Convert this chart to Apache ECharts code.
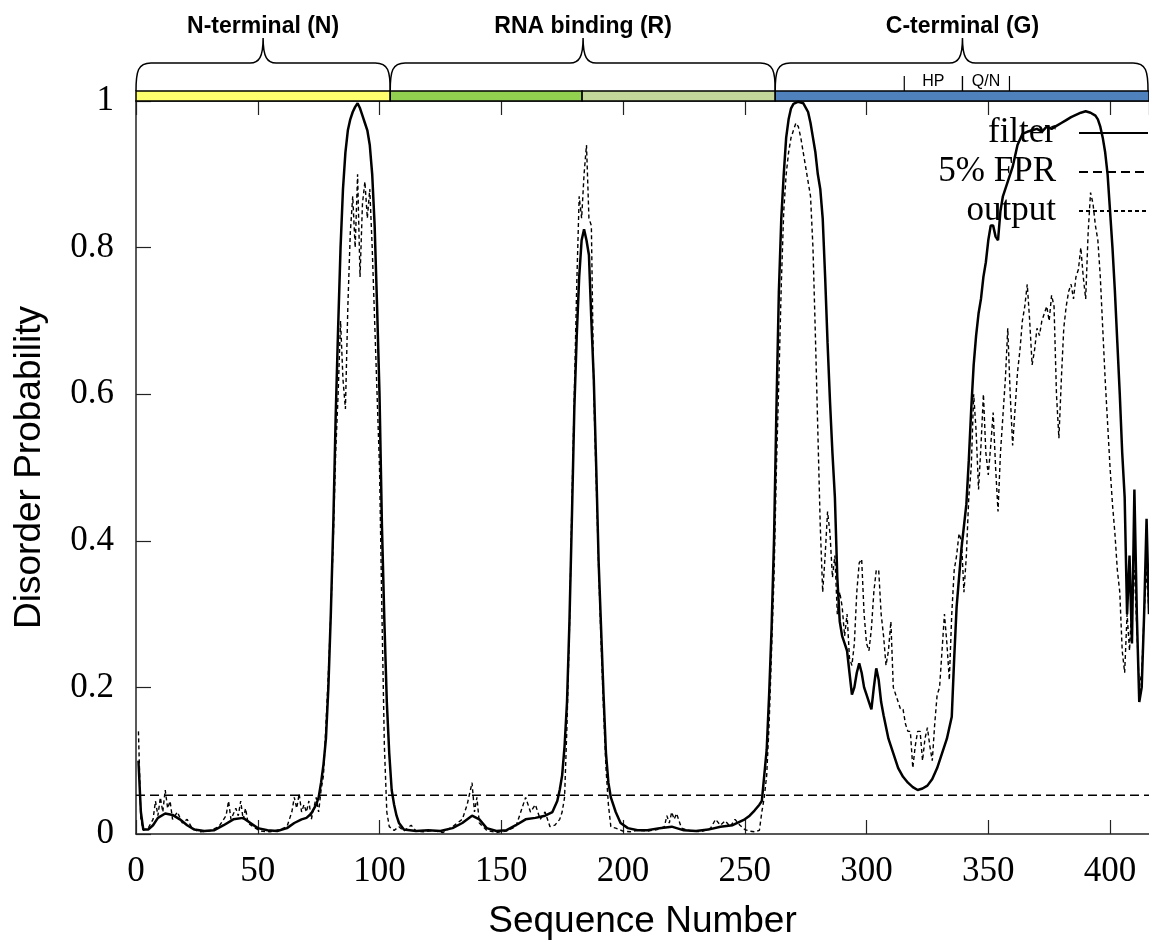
<!DOCTYPE html>
<html>
<head>
<meta charset="utf-8">
<script src="https://cdn.jsdelivr.net/npm/echarts@6/dist/echarts.min.js"></script>
<style>
html,body{margin:0;padding:0;background:#fff;}
#chart{width:1149px;height:945px;}
</style>
</head>
<body>
<div id="chart"></div>
<script>
// ---------- data ----------
const xTickValues = [0, 50, 100, 150, 200, 250, 300, 350, 400];
const yTickValues = [0, 0.2, 0.4, 0.6, 0.8, 1];
const seriesNames = ['filter', '5% FPR', 'output'];
const fprLevel = 0.053;
const seqMax = 416;

// [sequence number, disorder probability]
const filterPoints = [
[1,0.1],[2,0.03],[3,0.006],[5,0.006],[7,0.012],[9,0.022],[12,0.028],[15,0.026],[18,0.02],[21,0.012],[24,0.006],[28,0.004],[32,0.005],[36,0.012],[40,0.02],[44,0.022],[47,0.015],[50,0.008],[54,0.005],[58,0.004],[62,0.008],[65,0.015],[68,0.02],[70,0.022],[72,0.028],[74,0.04],[75,0.05],[76,0.07],[77,0.095],[78,0.13],[79,0.2],[80,0.3],[81,0.42],[82,0.57],[83,0.69],[84,0.8],[85,0.88],[86,0.93],[87,0.96],[88,0.975],[89,0.985],[90,0.992],[91,0.997],[92,0.99],[93,0.98],[94,0.97],[95,0.96],[96,0.94],[97,0.9],[98,0.83],[99,0.72],[100,0.6],[101,0.42],[102,0.29],[103,0.18],[104,0.11],[105,0.06],[106,0.04],[107,0.025],[108,0.015],[110,0.006],[115,0.004],[120,0.005],[125,0.004],[130,0.008],[134,0.015],[138,0.025],[141,0.02],[144,0.008],[148,0.004],[152,0.005],[156,0.012],[160,0.02],[164,0.022],[168,0.025],[171,0.03],[173,0.045],[174,0.06],[175,0.08],[176,0.12],[177,0.18],[178,0.29],[179,0.43],[180,0.58],[181,0.68],[182,0.76],[183,0.81],[184,0.825],[185,0.81],[186,0.79],[187,0.7],[188,0.62],[189,0.5],[190,0.37],[191,0.28],[192,0.19],[193,0.11],[194,0.07],[195,0.05],[197,0.03],[199,0.015],[202,0.008],[206,0.005],[210,0.005],[215,0.008],[220,0.01],[225,0.005],[230,0.004],[235,0.006],[240,0.01],[245,0.012],[250,0.02],[252,0.025],[254,0.032],[256,0.04],[257,0.045],[258,0.08],[259,0.115],[260,0.19],[261,0.28],[262,0.4],[263,0.58],[264,0.74],[265,0.84],[266,0.9],[267,0.95],[268,0.975],[269,0.99],[270,0.996],[272,0.999],[274,0.997],[276,0.985],[277,0.97],[278,0.95],[279,0.93],[280,0.9],[281,0.88],[282,0.84],[283,0.76],[284,0.67],[285,0.59],[286,0.52],[287,0.46],[288,0.35],[289,0.29],[290,0.27],[291,0.26],[292,0.25],[293,0.22],[294,0.19],[295,0.2],[296,0.22],[297,0.233],[298,0.22],[299,0.2],[300,0.19],[301,0.18],[302,0.17],[303,0.2],[304,0.226],[305,0.21],[306,0.18],[307,0.162],[309,0.13],[311,0.11],[313,0.09],[315,0.078],[317,0.07],[319,0.064],[321,0.06],[323,0.062],[325,0.066],[327,0.075],[329,0.09],[331,0.11],[333,0.13],[335,0.16],[336,0.24],[337,0.31],[338,0.35],[339,0.39],[340,0.42],[341,0.45],[342,0.51],[343,0.58],[344,0.64],[345,0.68],[346,0.71],[347,0.73],[348,0.76],[349,0.78],[350,0.81],[351,0.83],[352,0.83],[353,0.815],[354,0.81],[355,0.85],[356,0.87],[358,0.89],[360,0.91],[362,0.94],[364,0.955],[366,0.958],[368,0.96],[370,0.962],[372,0.958],[374,0.965],[376,0.962],[378,0.966],[380,0.97],[382,0.974],[384,0.978],[386,0.981],[388,0.984],[390,0.986],[392,0.984],[394,0.98],[395,0.975],[396,0.965],[397,0.95],[398,0.93],[399,0.9],[400,0.85],[401,0.8],[402,0.74],[403,0.67],[404,0.6],[405,0.52],[406,0.46],[407,0.3],[408,0.38],[409,0.26],[410,0.47],[411,0.3],[412,0.18],[413,0.2],[414,0.3],[415,0.43],[416,0.3]
];

const outputPoints = [
[1,0.14],[2,0.02],[3,0.005],[5,0.008],[7,0.02],[8,0.045],[9,0.025],[10,0.05],[11,0.03],[12,0.06],[13,0.035],[14,0.045],[15,0.02],[17,0.03],[19,0.015],[21,0.02],[23,0.008],[26,0.003],[30,0.004],[34,0.01],[37,0.025],[38,0.045],[39,0.02],[41,0.035],[42,0.025],[43,0.045],[44,0.02],[45,0.035],[46,0.015],[48,0.01],[51,0.004],[55,0.003],[59,0.006],[62,0.01],[64,0.03],[65,0.05],[66,0.035],[67,0.055],[68,0.03],[69,0.04],[70,0.03],[71,0.045],[72,0.02],[73,0.035],[74,0.05],[75,0.03],[76,0.06],[77,0.08],[78,0.15],[79,0.22],[80,0.3],[81,0.4],[82,0.52],[83,0.6],[84,0.7],[85,0.62],[86,0.58],[87,0.72],[88,0.82],[89,0.87],[90,0.8],[91,0.9],[92,0.76],[93,0.86],[94,0.89],[95,0.84],[96,0.88],[97,0.8],[98,0.7],[99,0.6],[100,0.5],[101,0.3],[102,0.12],[103,0.03],[104,0.01],[106,0.005],[108,0.01],[110,0.004],[113,0.012],[115,0.004],[118,0.003],[122,0.005],[126,0.002],[130,0.01],[134,0.02],[136,0.04],[138,0.07],[139,0.03],[140,0.05],[141,0.015],[144,0.005],[148,0.002],[152,0.004],[156,0.01],[158,0.03],[160,0.05],[162,0.03],[164,0.04],[166,0.02],[168,0.03],[170,0.01],[172,0.012],[174,0.02],[175,0.03],[176,0.05],[177,0.15],[178,0.28],[179,0.45],[180,0.6],[181,0.75],[182,0.87],[183,0.84],[184,0.9],[185,0.94],[186,0.84],[187,0.83],[188,0.6],[189,0.48],[190,0.36],[191,0.26],[192,0.17],[193,0.09],[194,0.04],[195,0.01],[197,0.008],[200,0.004],[203,0.003],[206,0.005],[210,0.004],[214,0.006],[217,0.01],[218,0.025],[219,0.015],[220,0.03],[221,0.02],[222,0.028],[224,0.008],[228,0.004],[232,0.003],[236,0.008],[238,0.02],[240,0.012],[242,0.018],[244,0.01],[246,0.02],[248,0.012],[250,0.006],[252,0.004],[254,0.003],[256,0.005],[257,0.03],[258,0.05],[259,0.08],[260,0.15],[261,0.25],[262,0.35],[263,0.5],[264,0.62],[265,0.75],[266,0.85],[267,0.9],[268,0.93],[269,0.95],[270,0.96],[271,0.97],[272,0.965],[273,0.95],[274,0.93],[275,0.91],[276,0.89],[277,0.87],[278,0.8],[279,0.68],[280,0.55],[281,0.42],[282,0.33],[283,0.38],[284,0.44],[285,0.41],[286,0.35],[287,0.38],[288,0.3],[289,0.33],[290,0.31],[291,0.27],[292,0.3],[293,0.24],[294,0.23],[295,0.26],[296,0.33],[297,0.37],[298,0.375],[299,0.3],[300,0.26],[301,0.25],[302,0.28],[303,0.33],[304,0.36],[305,0.36],[306,0.3],[307,0.27],[308,0.23],[309,0.25],[310,0.29],[311,0.2],[312,0.19],[313,0.18],[314,0.17],[315,0.17],[316,0.15],[317,0.14],[318,0.14],[319,0.09],[320,0.12],[321,0.14],[322,0.14],[323,0.1],[324,0.13],[325,0.145],[326,0.12],[327,0.1],[328,0.15],[329,0.19],[330,0.2],[331,0.25],[332,0.3],[333,0.26],[334,0.21],[335,0.3],[336,0.36],[337,0.38],[338,0.41],[339,0.4],[340,0.33],[341,0.38],[342,0.46],[343,0.5],[344,0.6],[345,0.55],[346,0.47],[347,0.53],[348,0.6],[349,0.52],[350,0.49],[351,0.53],[352,0.575],[353,0.5],[354,0.44],[355,0.52],[356,0.57],[357,0.62],[358,0.69],[359,0.6],[360,0.53],[361,0.58],[362,0.63],[363,0.66],[364,0.7],[365,0.72],[366,0.75],[367,0.7],[368,0.64],[369,0.66],[370,0.69],[371,0.68],[372,0.7],[373,0.71],[374,0.72],[375,0.7],[376,0.735],[377,0.72],[378,0.6],[379,0.54],[380,0.62],[381,0.69],[382,0.72],[383,0.74],[384,0.75],[385,0.73],[386,0.76],[387,0.77],[388,0.8],[389,0.76],[390,0.73],[391,0.82],[392,0.875],[393,0.86],[394,0.83],[395,0.81],[396,0.76],[397,0.69],[398,0.62],[399,0.56],[400,0.5],[401,0.45],[402,0.41],[403,0.36],[404,0.33],[405,0.25],[406,0.22],[407,0.3],[408,0.25],[409,0.32],[410,0.36],[411,0.28],[412,0.2],[413,0.22],[414,0.3],[415,0.36],[416,0.3]
];

// domain annotation (sequence ranges)
const domainLabels = ['N-terminal (N)', 'RNA binding (R)', 'C-terminal (G)'];
const domainStarts = [0, 104.4, 262.5];
const domainEnds = [104.4, 262.5, 415.6];
const domainTips = [52.2, 183.6, 339.4];
const barStarts = [0, 104.4, 183.2, 262.5];
const barEnds = [104.4, 183.2, 262.5, 416];
const subLabels = ['HP', 'Q/N'];
const subStarts = [315.5, 339.4];
const subEnds = [339.4, 358.7];

// ---------- styles ----------
const barColors = ['#FFFF6E', '#92D050', '#C4D79B', '#4F81BD'];
const SERIF = 'Liberation Serif';
const SANS = 'Liberation Sans';

const chart = echarts.init(document.getElementById('chart'), null, {renderer: 'canvas'});

function bracePath(x1, x2, xt, yEnd, yH, yTip) {
  const r = 15, t = 13;
  return 'M' + x1 + ' ' + yEnd +
    ' C' + x1 + ' ' + (yH + 8) + ' ' + (x1 + 2) + ' ' + yH + ' ' + (x1 + r) + ' ' + yH +
    ' L' + (xt - t) + ' ' + yH +
    ' C' + (xt - 4) + ' ' + yH + ' ' + xt + ' ' + (yH - 6) + ' ' + xt + ' ' + yTip +
    ' C' + xt + ' ' + (yH - 6) + ' ' + (xt + 4) + ' ' + yH + ' ' + (xt + t) + ' ' + yH +
    ' L' + (x2 - r) + ' ' + yH +
    ' C' + (x2 - 2) + ' ' + yH + ' ' + x2 + ' ' + (yH + 8) + ' ' + x2 + ' ' + yEnd;
}

const option = {
  animation: false,
  color: ['#000'],
  grid: [
    {left: 136, right: 0, top: 101, bottom: 109, containLabel: false},
    {left: 136, right: 0, top: 20, height: 81, containLabel: false}
  ],
  xAxis: [
    {
      type: 'value', gridIndex: 0, min: 0, max: seqMax, interval: 50,
      name: 'Sequence Number', nameLocation: 'middle', nameGap: 69,
      nameTextStyle: {fontFamily: SANS, fontSize: 37, color: '#000'},
      axisLine: {show: true, lineStyle: {color: '#222', width: 1.5}},
      axisTick: {show: true, inside: true, length: 14, lineStyle: {color: '#222', width: 1.2}},
      axisLabel: {
        show: true, margin: 20, fontFamily: SERIF, fontSize: 35, color: '#000',
        showMaxLabel: false,
        formatter: v => xTickValues.indexOf(v) >= 0 ? String(v) : ''
      },
      splitLine: {show: false}
    },
    {
      type: 'value', gridIndex: 0, position: 'top', min: 0, max: seqMax, interval: 50,
      axisLine: {show: true, lineStyle: {color: '#222', width: 1.5}},
      axisTick: {show: true, inside: true, length: 14, lineStyle: {color: '#222', width: 1.2}},
      axisLabel: {show: false}, splitLine: {show: false}
    },
    {
      type: 'value', gridIndex: 1, min: 0, max: seqMax, show: false
    }
  ],
  yAxis: [
    {
      type: 'value', gridIndex: 0, min: 0, max: 1, interval: 0.2,
      name: 'Disorder Probability', nameLocation: 'middle', nameGap: 88,
      nameTextStyle: {fontFamily: SANS, fontSize: 37, color: '#000'},
      axisLine: {show: true, lineStyle: {color: '#222', width: 1.5}},
      axisTick: {show: true, inside: true, length: 15, lineStyle: {color: '#222', width: 1.2}},
      axisLabel: {
        margin: 22, fontFamily: SERIF, fontSize: 35, color: '#000',
        formatter: v => {
          const r = Math.round(v * 10) / 10;
          if (yTickValues.indexOf(r) < 0) return '';
          return (r === 0 || r === 1) ? String(r) : r.toFixed(1);
        }
      },
      splitLine: {show: false}
    },
    {type: 'value', gridIndex: 1, min: 0, max: 81, show: false}
  ],
  legend: {
    orient: 'vertical', right: 0, top: 114, align: 'right', padding: 0,
    itemWidth: 69, itemHeight: 14, itemGap: 1,
    data: seriesNames,
    selectedMode: false,
    itemStyle: {opacity: 0, borderWidth: 0},
    textStyle: {fontFamily: SERIF, fontSize: 35, color: '#000', lineHeight: 38, padding: [0, 18, 0, 0]}
  },
  series: [
    {
      name: seriesNames[0], type: 'line', xAxisIndex: 0, yAxisIndex: 0,
      data: filterPoints, symbol: 'none', showSymbol: false, smooth: false,
      lineStyle: {color: '#000', width: 2.5, type: 'solid'}, z: 3
    },
    {
      name: seriesNames[1], type: 'line', xAxisIndex: 0, yAxisIndex: 0,
      data: [[0, fprLevel], [seqMax, fprLevel]], symbol: 'none', showSymbol: false,
      lineStyle: {color: '#000', width: 1.5, type: [9, 5]}, z: 2
    },
    {
      name: seriesNames[2], type: 'line', xAxisIndex: 0, yAxisIndex: 0,
      data: outputPoints, symbol: 'none', showSymbol: false, smooth: false,
      lineStyle: {color: '#000', width: 1.4, type: [4, 3]}, z: 4
    },
    {
      type: 'custom', xAxisIndex: 2, yAxisIndex: 1, silent: true,
      data: barStarts.map((s, i) => [s, barEnds[i], i]),
      renderItem: function (params, api) {
        const p0 = api.coord([api.value(0), 10]);
        const p1 = api.coord([api.value(1), 0]);
        return {
          type: 'rect',
          shape: {x: p0[0], y: p0[1], width: p1[0] - p0[0], height: p1[1] - p0[1]},
          style: {fill: barColors[api.value(2)], stroke: '#000', lineWidth: 1.5}
        };
      }
    },
    {
      type: 'custom', xAxisIndex: 2, yAxisIndex: 1, silent: true,
      data: domainStarts.map((s, i) => [s, domainEnds[i], domainTips[i], i]),
      renderItem: function (params, api) {
        const a = api.coord([api.value(0), 10]);
        const b = api.coord([api.value(1), 38]);
        const tip = api.coord([api.value(2), 63]);
        const lab = api.coord([api.value(2), 74]);
        return {
          type: 'group',
          children: [
            {
              type: 'path',
              shape: {pathData: bracePath(a[0], b[0], tip[0], a[1], b[1], tip[1])},
              style: {fill: 'none', stroke: '#000', lineWidth: 1.5}
            },
            {
              type: 'text', x: lab[0], y: lab[1],
              style: {
                text: domainLabels[api.value(3)], fill: '#000',
                font: 'bold 23px "' + SANS + '"', align: 'center', verticalAlign: 'middle'
              }
            }
          ]
        };
      }
    },
    {
      type: 'custom', xAxisIndex: 2, yAxisIndex: 1, silent: true,
      data: subStarts.map((s, i) => [s, subEnds[i], i]),
      renderItem: function (params, api) {
        const a0 = api.coord([api.value(0), 10]);
        const a1 = api.coord([api.value(0), 25]);
        const b0 = api.coord([api.value(1), 10]);
        const b1 = api.coord([api.value(1), 25]);
        const mid = api.coord([(api.value(0) + api.value(1)) / 2, 19]);
        return {
          type: 'group',
          children: [
            {type: 'line', shape: {x1: a0[0], y1: a0[1], x2: a1[0], y2: a1[1]}, style: {stroke: '#000', lineWidth: 1.2}},
            {type: 'line', shape: {x1: b0[0], y1: b0[1], x2: b1[0], y2: b1[1]}, style: {stroke: '#000', lineWidth: 1.2}},
            {
              type: 'text', x: mid[0], y: mid[1],
              style: {text: subLabels[api.value(2)], fill: '#000', font: '16px "' + SANS + '"', align: 'center', verticalAlign: 'middle'}
            }
          ]
        };
      }
    }
  ]
};
chart.setOption(option);
</script>
</body>
</html>
